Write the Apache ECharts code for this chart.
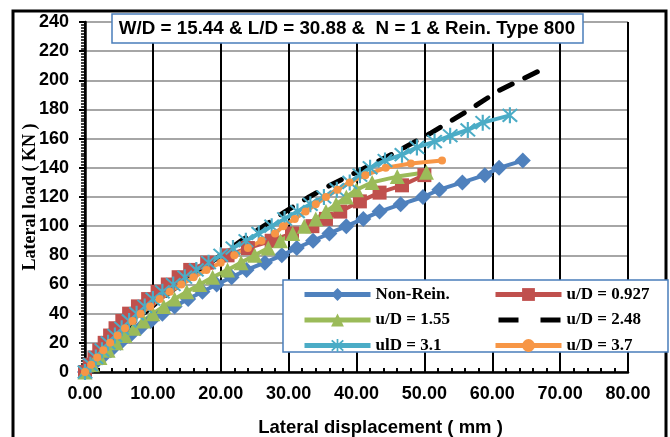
<!DOCTYPE html>
<html>
<head>
<meta charset="utf-8">
<script src="https://cdn.jsdelivr.net/npm/echarts@6/dist/echarts.min.js"></script>
<style>
html,body{margin:0;padding:0;background:#fff;}
#chartContainer{width:670px;height:437px;}
</style>
</head>
<body>
<div id="chartContainer"></div>
<script>
var myChart;//全局图表变量

// 各曲线数据：位移(mm) 与 荷载(kN)
var nonReinDisp=[0,1.2,2.5,3.8,5.2,6.6,8.1,9.7,11.4,13.2,15.2,17.3,19.4,21.6,23.8,26.5,29,31.2,33.6,36,38.5,41,43.4,46.5,49.8,52.2,55.6,58.9,61,64.5];
var nonReinLoad=[0,5,10,15,20,25,30,35,40,45,50,55,60,65,70,75,80,85,90,95,100,105,110,115,120,125,130,135,140,145];

var ud0927Disp=[0,0.7,1.4,2.1,2.9,3.7,4.5,5.5,6.5,7.8,9.3,10.7,12.2,13.8,15.5,18,21,24,27.5,30.5,33.5,35.5,37.6,40.5,43.4,46.7,50];
var ud0927Load=[0,5,10,15,20,25,30,35,40,45,50,55,60,65,70,75,80,85,90,95,100,105,110,117,123,128,135];

var ud155Disp=[0,1.1,2.2,3.4,4.6,5.9,7.2,8.6,10,11.6,13.2,15,16.9,18.8,21,23,25,27,28.8,30.6,32.3,34,35.5,37,38.5,40,42.3,46,50.3];
var ud155Load=[0,5,10,15,20,25,30,35,40,45,50,55,60,65,70,75,80,85,90,95,100,105,110,115,120,125,130,134,137];

var ud248Disp=[0,2,4,6.2,8.6,11.2,14,17,20,23,26,29.5,33,36.5,40,45.5,51,56,61,68];
var ud248Load=[0,10,20,30,40,50,60,70,80,90,99,110,120,129,137,150,164,178,193,209];

var ud31Disp=[0,0.8,1.6,2.5,3.4,4.4,5.4,6.5,7.6,8.8,10,11.4,13,14.7,16.4,18.2,20,21.8,23.7,25.6,27.5,29.4,31.3,33.2,35.2,37.1,39,40.5,42,44.2,46.7,48.9,51.5,53.8,56.4,58.6,62.6];
var ud31Load=[0,5,10,15,20,25,30,35,40,45,50,55,60,65,70,75,80,85,90,95,100,105,110,115,120,125,130,135,140,145,149,154,158,162,166,171,176];

var ud37Disp=[0,0.9,1.8,2.7,3.7,4.8,5.9,7,8.2,9.6,11,12.5,14.2,16,17.9,20,22,24,26,28,29.2,30.9,32.5,34,35.5,37.2,39,41.3,44.3,48,52.6];
var ud37Load=[0,5,10,15,20,25,30,35,40,45,50,55,60,65,70,75,80,85,90,95,100,105,110,115,120,125,130,135,140,143,145];

var seriesNames=['Non-Rein.','u/D = 0.927','u/D = 1.55','u/D = 2.48','ulD = 3.1','u/D = 3.7'];

// 星号标记（Excel 的 * 号）
var starPath='path://M-1.2,-10L1.2,-10L1.2,10L-1.2,10Z'+
	'M-8.9,-7.2L-7.2,-8.9L8.9,7.2L7.2,8.9Z'+
	'M7.2,-8.9L8.9,-7.2L-7.2,8.9L-8.9,7.2Z';
// 图例里的两段虚线（上下各留一个极小点撑开图标高度）
var dashIcon='path://M0,0h0.01v0.01h-0.01Z M0,15.99h0.01v0.01h-0.01Z'+
	'M2,5.5h20v5h-20Z M44,5.5h20v5h-20Z';

/**
 * 把位移和荷载两个数组拼成 [x,y] 点
 */
function toPoints(disp,load){
	var pts=[];
	for(var i=0;i<disp.length;i++){
		pts.push([disp[i],load[i]]);
	}
	return pts;
}

function showLoadDispChart(){
	var dom=document.getElementById("chartContainer");
	myChart=echarts.init(dom);
	var axisFont='"Liberation Sans",Arial,sans-serif';
	var serifFont='"Liberation Serif","Times New Roman",serif';
	var legendText={fontFamily:serifFont,fontWeight:'bold',fontSize:17,color:'#000'};
	var option={
		animation:false,
		backgroundColor:'#fff',
		grid:{left:85,right:42,top:22,bottom:65,containLabel:false,outerBoundsMode:'none'},
		xAxis:{
			type:'value',min:0,max:80,interval:10,
			name:'Lateral displacement ( mm )',
			nameLocation:'middle',nameGap:46,
			nameTextStyle:{fontFamily:axisFont,fontWeight:'bold',fontSize:18.5,color:'#000',padding:[0,0,0,48]},
			axisLine:{lineStyle:{color:'#000',width:2.5}},
			axisTick:{inside:true,length:6,lineStyle:{color:'#000',width:2}},
			minorTick:{show:true,splitNumber:5,length:4,lineStyle:{color:'#000',width:2}},
			axisLabel:{fontFamily:axisFont,fontWeight:'bold',fontSize:18,color:'#000',margin:13,
				formatter:function(v){return v.toFixed(2);}},
			splitLine:{show:true,lineStyle:{color:'#000',width:2}}
		},
		yAxis:{
			type:'value',min:0,max:240,interval:20,
			name:'Lateral load ( KN )',
			nameLocation:'middle',nameGap:46,nameMoveOverlap:false,
			nameTextStyle:{fontFamily:serifFont,fontWeight:'bold',fontSize:18,color:'#000'},
			axisLine:{lineStyle:{color:'#000',width:2.5}},
			axisTick:{length:6,lineStyle:{color:'#000',width:2}},
			minorTick:{show:true,splitNumber:10,length:4,lineStyle:{color:'#000',width:1.5}},
			axisLabel:{fontFamily:axisFont,fontWeight:'bold',fontSize:18,color:'#000',margin:16},
			splitLine:{show:true,lineStyle:{color:'#a6a6a6',width:2}}
		},
		legend:[
			{
				orient:'vertical',left:297,top:281,
				data:[seriesNames[0],seriesNames[2],seriesNames[4]],
				itemWidth:66,itemHeight:16,itemGap:8.5,
				lineStyle:{width:5},
				textStyle:legendText
			},
			{
				orient:'vertical',left:488,top:281,
				data:[seriesNames[1],
					{name:seriesNames[3],icon:dashIcon},
					seriesNames[5]],
				itemWidth:66,itemHeight:16,itemGap:8.5,
				lineStyle:{width:5},
				textStyle:legendText
			}
		],
		graphic:[
			// 外框
			{type:'rect',z:-1,shape:{x:13,y:11,width:653,height:440},
				style:{fill:'none',stroke:'#000',lineWidth:3}},
			// 标题框
			{type:'rect',z:10,shape:{x:112,y:14,width:471,height:29},
				style:{fill:'#fff',stroke:'#4a7ebb',lineWidth:1.5}},
			{type:'text',z:11,x:347,y:29,
				style:{text:'W/D = 15.44 & L/D = 30.88 &  N = 1 & Rein. Type 800',
					font:'bold 18.8px "Liberation Sans",Arial,sans-serif',fill:'#000',
					align:'center',verticalAlign:'middle'}},
			// 图例框
			{type:'rect',z:3,shape:{x:283,y:280,width:385,height:72},
				style:{fill:'#fff',stroke:'#4a7ebb',lineWidth:1.5}}
		],
		series:[
			{name:seriesNames[0],type:'line',data:toPoints(nonReinDisp,nonReinLoad),
				symbol:'diamond',symbolSize:16,
				lineStyle:{color:'#4f81bd',width:4},itemStyle:{color:'#4f81bd'}},
			{name:seriesNames[1],type:'line',data:toPoints(ud0927Disp,ud0927Load),
				symbol:'rect',symbolSize:14,
				lineStyle:{color:'#c0504d',width:4},itemStyle:{color:'#c0504d'}},
			{name:seriesNames[2],type:'line',data:toPoints(ud155Disp,ud155Load),
				symbol:'triangle',symbolSize:15,
				lineStyle:{color:'#9bbb59',width:4},itemStyle:{color:'#9bbb59'}},
			{name:seriesNames[3],type:'line',data:toPoints(ud248Disp,ud248Load),
				symbol:'none',
				lineStyle:{color:'#000',width:5,type:[14,14],cap:'round'},itemStyle:{color:'#000'}},
			{name:seriesNames[4],type:'line',data:toPoints(ud31Disp,ud31Load),
				symbol:starPath,symbolSize:16,
				lineStyle:{color:'#4bacc6',width:4},itemStyle:{color:'#4bacc6'}},
			{name:seriesNames[5],type:'line',data:toPoints(ud37Disp,ud37Load),
				symbol:'circle',symbolSize:8,
				lineStyle:{color:'#f79646',width:4},itemStyle:{color:'#f79646'}}
		]
	};
	myChart.setOption(option,true);
}

showLoadDispChart();
</script>
</body>
</html>
